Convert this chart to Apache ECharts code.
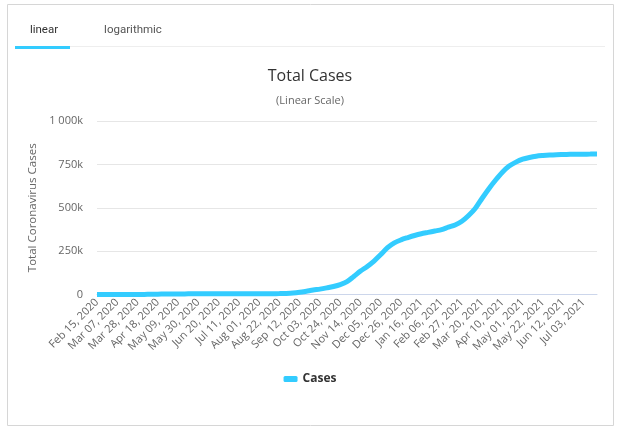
<!DOCTYPE html>
<html>
<head>
<meta charset="utf-8">
<script src="https://cdn.jsdelivr.net/npm/echarts@6/dist/echarts.min.js"></script>
<style>
html,body{margin:0;padding:0;background:#fff;}
#chart{width:620px;height:433px;}
</style>
</head>
<body>
<div id="chart"></div>
<script>
var categories = [
 "Feb 15, 2020","Feb 22, 2020","Feb 29, 2020","Mar 07, 2020","Mar 14, 2020","Mar 21, 2020","Mar 28, 2020",
 "Apr 04, 2020","Apr 11, 2020","Apr 18, 2020","Apr 25, 2020","May 02, 2020","May 09, 2020","May 16, 2020",
 "May 23, 2020","May 30, 2020","Jun 06, 2020","Jun 13, 2020","Jun 20, 2020","Jun 27, 2020","Jul 04, 2020",
 "Jul 11, 2020","Jul 18, 2020","Jul 25, 2020","Aug 01, 2020","Aug 08, 2020","Aug 15, 2020","Aug 22, 2020",
 "Aug 29, 2020","Sep 05, 2020","Sep 12, 2020","Sep 19, 2020","Sep 26, 2020","Oct 03, 2020","Oct 10, 2020",
 "Oct 17, 2020","Oct 24, 2020","Oct 31, 2020","Nov 07, 2020","Nov 14, 2020","Nov 21, 2020","Nov 28, 2020",
 "Dec 05, 2020","Dec 12, 2020","Dec 19, 2020","Dec 26, 2020","Jan 02, 2021","Jan 09, 2021","Jan 16, 2021",
 "Jan 23, 2021","Jan 30, 2021","Feb 06, 2021","Feb 13, 2021","Feb 20, 2021","Feb 27, 2021","Mar 06, 2021",
 "Mar 13, 2021","Mar 20, 2021","Mar 27, 2021","Apr 03, 2021","Apr 10, 2021","Apr 17, 2021","Apr 24, 2021",
 "May 01, 2021","May 08, 2021","May 15, 2021","May 22, 2021","May 29, 2021","Jun 05, 2021","Jun 12, 2021",
 "Jun 19, 2021","Jun 26, 2021","Jul 03, 2021","Jul 10, 2021","Jul 17, 2021"
];
var cases = [
 0,0,0,5,30,103,408,
 678,1310,1916,2500,2998,3263,3509,
 3756,3876,4008,4077,4102,4145,4166,
 4210,4263,4366,4448,4597,4787,5046,
 5939,8000,12500,19000,26000,31000,38000,
 46000,57000,74000,104000,135000,162000,193000,
 230000,270000,298000,315000,328000,340000,350000,
 358000,366000,374000,388000,401000,422000,455000,
 497000,555000,610000,660000,705000,740000,763000,
 780000,790000,797000,801000,804000,806000,807000,
 808000,808500,808900,809100,809300
];
var yTicks = [0, 250000, 500000, 750000, 1000000];
var yTickLabels = ["0", "250k", "500k", "750k", "1 000k"];
var seriesName = "Cases";
var titleText = "Total Cases";
var subtitleText = "(Linear Scale)";
var yAxisTitle = "Total Coronavirus Cases";
var tabLabels = ["linear", "logarithmic"];

var chart = echarts.init(document.getElementById('chart'), null, {renderer: 'canvas'});
var font = '"Open Sans", sans-serif';
chart.setOption({
  animation: false,
  backgroundColor: '#ffffff',
  graphic: [
    {type: 'rect', shape: {x: 7.5, y: 4.5, width: 606, height: 421}, style: {fill: 'none', stroke: '#d6d6d6', lineWidth: 1}, z: 0},
    {type: 'rect', shape: {x: 70, y: 46, width: 535, height: 1}, style: {fill: '#eeeeee'}, z: 1},
    {type: 'rect', shape: {x: 15, y: 46, width: 55, height: 3}, style: {fill: '#33ccff'}, z: 1},
    {type: 'text', x: 44, y: 30, style: {text: tabLabels[0], fill: '#333333', font: '11.5px Roboto, sans-serif', align: 'center', verticalAlign: 'middle'}},
    {type: 'text', x: 133, y: 30, style: {text: tabLabels[1], fill: '#555555', font: '11.5px Roboto, sans-serif', align: 'center', verticalAlign: 'middle'}}
  ],
  title: {
    text: titleText,
    subtext: subtitleText,
    left: 'center',
    top: 63,
    itemGap: 11,
    textStyle: {fontFamily: font, fontSize: 16, fontWeight: 'normal', color: '#333333'},
    subtextStyle: {fontFamily: font, fontSize: 11, color: '#666666'}
  },
  legend: {
    data: [{name: seriesName, icon: 'roundRect'}],
    bottom: 43,
    left: 'center',
    itemWidth: 14,
    itemHeight: 6,
    itemGap: 6,
    textStyle: {fontFamily: font, fontSize: 12, fontWeight: 'bold', color: '#333333'}
  },
  grid: {left: 97, right: 23, top: 121, bottom: 138.5, containLabel: false},
  xAxis: {
    type: 'category',
    data: categories,
    boundaryGap: false,
    axisLine: {lineStyle: {color: '#ccd6eb', width: 1}},
    axisTick: {show: false},
    axisLabel: {
      interval: 2,
      rotate: 45,
      margin: 6,
      fontFamily: font,
      fontSize: 11,
      color: '#666666'
    },
    splitLine: {show: false}
  },
  yAxis: {
    type: 'value',
    min: 0,
    max: 1000000,
    interval: 250000,
    name: yAxisTitle,
    nameLocation: 'middle',
    nameGap: 48,
    nameRotate: 90,
    nameTextStyle: {fontFamily: font, fontSize: 11.5, color: '#666666'},
    axisLine: {show: false},
    axisTick: {show: false},
    axisLabel: {
      margin: 14,
      fontFamily: font,
      fontSize: 11,
      color: '#666666',
      formatter: function (v) {
        var i = yTicks.indexOf(v);
        return i >= 0 ? yTickLabels[i] : '';
      }
    },
    splitLine: {lineStyle: {color: '#e6e6e6', width: 1}}
  },
  series: [{
    name: seriesName,
    type: 'line',
    data: cases,
    smooth: 0.3,
    showSymbol: false,
    symbol: 'circle',
    lineStyle: {color: '#33ccff', width: 5},
    itemStyle: {color: '#33ccff'}
  }]
});
</script>
</body>
</html>
